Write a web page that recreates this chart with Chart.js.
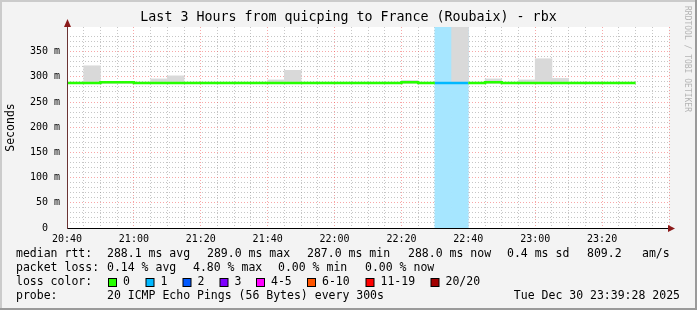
<!DOCTYPE html>
<html>
<head>
<meta charset="utf-8">
<script src="https://cdn.jsdelivr.net/npm/chart.js@4.4.1/dist/chart.umd.min.js"></script>
<style>
  html, body { margin: 0; padding: 0; background: #f3f3f3; }
  canvas { display: block; }
</style>
</head>
<body>
<canvas id="rrd" width="697" height="310"></canvas>
<script>
// one slot = 5 minutes, first slot starts at 20:40
const tickLabels = ['20:40', '21:00', '21:20', '21:40', '22:00', '22:20', '22:40', '23:00', '23:20'];
const medianRtt = [288, 288, 289.5, 289.5, 288, 288, 288, 288, 288, 288, 288, 288, 288, 288, 288, 288, 288,
  288, 288, 288, 289.5, 288, 288, 288, 288, 289.5, 288, 288, 288, 288, 288, 288, 288, 288];
const smokeLow = [286.5, 286.5, 287, 287, 286.5, 286.5, 286.5, 286.5, 286.5, 286.5, 286.5, 286.5, 286.5, 286.5,
  286.5, 286.5, 286.5, 286.5, 286.5, 286.5, 287, 286.5, 286.5, 286.5, 286.5, 287, 286.5, 286.5, 286.5, 286.5,
  286.5, 286.5, 286.5, 286.5];
const smokeHigh = [289.5, 322, 291, 291, 289.5, 296, 302, 289.5, 289.5, 289.5, 289.5, 289.5, 294, 313, 289.5,
  289.5, 289.5, 289.5, 289.5, 289.5, 293, 289.5, 289.5, 450, 289.5, 296, 289.5, 294, 336, 297, 289.5, 289.5,
  289.5, 289.5];
const lostPings = [0, 0, 0, 0, 0, 0, 0, 0, 0, 0, 0, 0, 0, 0, 0, 0, 0, 0, 0, 0, 0, 0, 1, 1, 0, 0, 0, 0, 0, 0, 0, 0, 0, 0];

const titleText = 'Last 3 Hours from quicping to France (Roubaix) - rbx';
const medianStats = ['288.1 ms avg', '289.0 ms max', '287.0 ms min', '288.0 ms now', '0.4 ms sd', '809.2', 'am/s'];
const lossStats = ['0.14 % avg', '4.80 % max', '0.00 % min', '0.00 % now'];
const lossBuckets = ['0', '1', '2', '3', '4-5', '6-10', '11-19', '20/20'];
const lossBucketColors = ['#26ff00', '#00b8ff', '#0059ff', '#7e00ff', '#ff00ff', '#ff5500', '#ff0000', '#a10000'];
const probeText = '20 ICMP Echo Pings (56 Bytes) every 300s';
const stampText = 'Tue Dec 30 23:39:28 2025';

const MONO = '"DejaVu Sans Mono", monospace';
const minorGrid = 'rgba(128,128,128,0.45)';
const majorGrid = 'rgba(240,60,60,0.45)';

function lossColor(n) {
  if (!n) return lossBucketColors[0];
  if (n <= 3) return lossBucketColors[n];
  if (n <= 5) return lossBucketColors[4];
  if (n <= 10) return lossBucketColors[5];
  if (n <= 19) return lossBucketColors[6];
  return lossBucketColors[7];
}

function lighten(hex, a) {
  const r = parseInt(hex.slice(1, 3), 16), g = parseInt(hex.slice(3, 5), 16), b = parseInt(hex.slice(5, 7), 16);
  const mix = c => Math.round(c * a + 255 * (1 - a));
  return 'rgb(' + mix(r) + ',' + mix(g) + ',' + mix(b) + ')';
}

const rrdFrame = {
  id: 'rrdFrame',
  beforeDraw(chart) {
    const { ctx, chartArea: a, width, height } = chart;
    ctx.save();
    ctx.fillStyle = '#f3f3f3';
    ctx.fillRect(0, 0, width, height);
    ctx.fillStyle = '#cbcbcb';
    ctx.fillRect(0, 0, width, 2);
    ctx.fillRect(0, 0, 2, height);
    ctx.fillStyle = '#9a9a9a';
    ctx.fillRect(0, height - 2, width, 2);
    ctx.fillRect(width - 2, 0, 2, height);
    ctx.fillStyle = '#ffffff';
    ctx.fillRect(a.left, a.top, a.right - a.left, a.bottom - a.top);
    ctx.restore();
  },
  afterDraw(chart) {
    const { ctx, chartArea: a, width } = chart;
    const x0 = Math.round(chart.scales.x.getPixelForValue(0));
    const y0 = Math.round(chart.scales.y.getPixelForValue(0));
    ctx.save();

    // axes + arrows
    ctx.fillStyle = '#000';
    ctx.fillRect(x0, y0, a.right - x0, 1);
    ctx.fillStyle = '#6b3434';
    ctx.fillRect(x0, a.top - 6, 1, y0 - a.top + 7);
    ctx.fillStyle = '#8b1a1a';
    ctx.beginPath();
    ctx.moveTo(x0 + 0.5, a.top - 8);
    ctx.lineTo(x0 - 3, a.top);
    ctx.lineTo(x0 + 4, a.top);
    ctx.closePath();
    ctx.fill();
    ctx.beginPath();
    ctx.moveTo(a.right + 6, y0 + 0.5);
    ctx.lineTo(a.right - 1, y0 - 3);
    ctx.lineTo(a.right - 1, y0 + 4);
    ctx.closePath();
    ctx.fill();

    // title
    ctx.fillStyle = '#000';
    ctx.textBaseline = 'middle';
    ctx.textAlign = 'center';
    ctx.font = '13.3px ' + MONO;
    ctx.fillText(titleText, width / 2, 18);

    // legend
    ctx.textAlign = 'left';
    ctx.font = '11.5px ' + MONO;
    const row1 = [107, 207, 307, 408, 507, 587, 642];
    ctx.fillText('median rtt:', 16, 254);
    medianStats.forEach((s, i) => ctx.fillText(s, row1[i], 254));
    const row2 = [107, 193, 278, 365];
    ctx.fillText('packet loss:', 16, 268);
    lossStats.forEach((s, i) => ctx.fillText(s, row2[i], 268));
    ctx.fillText('loss color:', 16, 282);
    const boxX = [108, 145.5, 182.5, 219.5, 256, 307, 365.5, 430.5];
    lossBuckets.forEach((s, i) => {
      ctx.fillStyle = '#000';
      ctx.fillRect(boxX[i], 278, 9, 9);
      ctx.fillStyle = lossBucketColors[i];
      ctx.fillRect(boxX[i] + 1, 279, 7, 7);
      ctx.fillStyle = '#000';
      ctx.fillText(s, boxX[i] + 15, 282);
    });
    ctx.fillText('probe:', 16, 296);
    ctx.fillText(probeText, 107, 296);
    ctx.textAlign = 'right';
    ctx.fillText(stampText, 680, 296);

    // watermark
    ctx.translate(687, 6);
    ctx.rotate(Math.PI / 2);
    ctx.textAlign = 'left';
    ctx.fillStyle = '#b4b4b4';
    ctx.font = '8px ' + MONO;
    ctx.fillText('RRDTOOL / TOBI OETIKER', 0, 0);
    ctx.restore();
  }
};

new Chart(document.getElementById('rrd'), {
  type: 'bar',
  data: {
    datasets: [
      {
        type: 'bar',
        label: 'loss',
        yAxisID: 'yLoss',
        order: 3,
        grouped: false,
        barPercentage: 1,
        categoryPercentage: 1,
        borderWidth: 0,
        data: lostPings.map((n, i) => ({ x: i * 5 + 2.5, y: n > 0 ? 1 : null })),
        backgroundColor: c => lighten(lossColor(lostPings[c.dataIndex]), 0.35)
      },
      {
        type: 'bar',
        label: 'smoke',
        order: 2,
        grouped: false,
        barPercentage: 1,
        categoryPercentage: 1,
        borderWidth: 0,
        data: smokeHigh.map((h, i) => ({ x: i * 5 + 2.5, y: [smokeLow[i], h] })),
        backgroundColor: '#d9d9d9'
      },
      {
        type: 'line',
        label: 'median rtt',
        order: 1,
        data: medianRtt.map((v, i) => ({ x: i * 5, y: v }))
          .concat([{ x: medianRtt.length * 5, y: medianRtt[medianRtt.length - 1] }]),
        stepped: true,
        borderWidth: 2.5,
        pointRadius: 0,
        borderColor: lossBucketColors[0],
        segment: { borderColor: c => lossColor(lostPings[c.p0DataIndex]) }
      }
    ]
  },
  options: {
    responsive: false,
    animation: false,
    devicePixelRatio: 1,
    events: [],
    layout: { padding: { top: 27, right: 28, left: 0, bottom: 0 } },
    plugins: { legend: { display: false }, tooltip: { enabled: false } },
    scales: {
      x: {
        type: 'linear',
        min: 0,
        max: 180,
        offset: false,
        z: 1,
        grid: {
          offset: false,
          drawTicks: false,
          lineWidth: 1,
          color: c => (c.tick && c.tick.value % 20 === 0 ? majorGrid : minorGrid)
        },
        border: { display: false, dash: [1, 2] },
        ticks: {
          stepSize: 5,
          autoSkip: false,
          maxRotation: 0,
          padding: 5,
          color: '#000',
          font: { family: MONO, size: 10 },
          callback: v => (v % 20 === 0 && v < 180 ? tickLabels[v / 20] : '')
        },
        afterFit: s => { s.height = 82; }
      },
      y: {
        min: 0,
        max: 399,
        z: 1,
        grid: {
          drawTicks: false,
          lineWidth: 1,
          color: c => (c.tick && c.tick.value % 50 === 0 ? majorGrid : minorGrid)
        },
        border: { display: false, dash: [1, 2] },
        ticks: {
          stepSize: 10,
          autoSkip: false,
          padding: 7,
          color: '#000',
          font: { family: MONO, size: 10 },
          callback: v => (v % 50 ? '' : (v === 0 ? '0  ' : v + ' m'))
        },
        afterBuildTicks: s => { s.ticks = s.ticks.filter(t => t.value % 10 === 0 && t.value < 399); },
        title: {
          display: true,
          text: 'Seconds',
          color: '#000',
          font: { family: MONO, size: 11.5 },
          padding: { top: 4, bottom: 0 }
        },
        afterFit: s => { s.width = 67; }
      },
      yLoss: { display: false, min: 0, max: 1 }
    }
  },
  plugins: [rrdFrame]
});
</script>
</body>
</html>
